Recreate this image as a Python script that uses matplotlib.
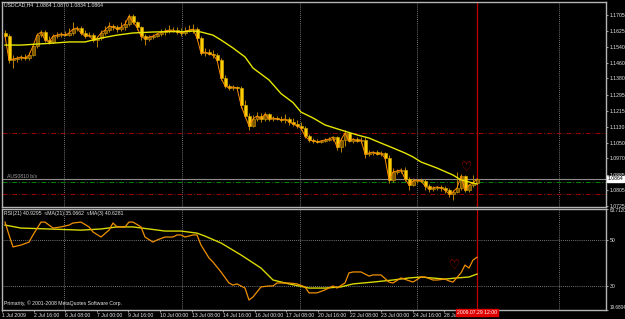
import matplotlib
matplotlib.use("Agg")
import matplotlib.pyplot as plt
import numpy as np

plt.rcParams["font.family"] = ["Liberation Sans", "DejaVu Sans"]

# ---------------- data ----------------
symbol_header = "USDCAD,H4  1.0864 1.0870 1.0834 1.0864"
rsi_header = "RSI(21) 40.9295  \u2248MA(21) 35.0662  \u2248MA(3) 40.6281"
copyright_text = "Primarity, \u00a9 2001-2008 MetaQuotes Software Corp."
line_label = "AUS0810 b/s"

first_open = 1.1613
closes = [1.1597, 1.1474, 1.1479, 1.1484, 1.1490, 1.1484, 1.1500, 1.1546, 1.1602, 1.1618,
          1.1577, 1.1567, 1.1597, 1.1602, 1.1608, 1.1602, 1.1613, 1.1633, 1.1638, 1.1613,
          1.1597, 1.1602, 1.1577, 1.1587, 1.1613, 1.1628, 1.1649, 1.1643, 1.1633, 1.1643,
          1.1659, 1.1700, 1.1669, 1.1643, 1.1597, 1.1582, 1.1592, 1.1597, 1.1608, 1.1618,
          1.1623, 1.1628, 1.1628, 1.1618, 1.1613, 1.1623, 1.1628, 1.1633, 1.1587, 1.1510,
          1.1515, 1.1505, 1.1500, 1.1474, 1.1382, 1.1341, 1.1331, 1.1336, 1.1331, 1.1243,
          1.1187, 1.1136, 1.1172, 1.1187, 1.1172, 1.1197, 1.1172, 1.1177, 1.1172, 1.1166,
          1.1172, 1.1156, 1.1146, 1.1136, 1.1125, 1.1084, 1.1064, 1.1059, 1.1054, 1.1059,
          1.1064, 1.1069, 1.1079, 1.1028, 1.1064, 1.1100, 1.1059, 1.1069, 1.1059, 1.1064,
          1.0992, 1.0997, 1.1002, 1.0992, 1.0997, 1.0971, 1.0859, 1.0900, 1.0905, 1.0910,
          1.0864, 1.0833, 1.0854, 1.0859, 1.0854, 1.0828, 1.0812, 1.0818, 1.0823, 1.0818,
          1.0807, 1.0787, 1.0797, 1.0818, 1.0879, 1.0807, 1.0833, 1.0843, 1.0864]
highs = [1.1628, 1.1608, 1.1500, 1.1495, 1.1500, 1.1505, 1.1515, 1.1556, 1.1613, 1.1628,
         1.1628, 1.1597, 1.1608, 1.1618, 1.1618, 1.1623, 1.1638, 1.1669, 1.1649, 1.1649,
         1.1628, 1.1618, 1.1613, 1.1597, 1.1628, 1.1649, 1.1669, 1.1659, 1.1654, 1.1669,
         1.1679, 1.1710, 1.1710, 1.1674, 1.1649, 1.1608, 1.1602, 1.1608, 1.1613, 1.1633,
         1.1638, 1.1654, 1.1643, 1.1643, 1.1638, 1.1643, 1.1654, 1.1659, 1.1643, 1.1597,
         1.1536, 1.1531, 1.1526, 1.1510, 1.1484, 1.1397, 1.1351, 1.1346, 1.1341, 1.1341,
         1.1269, 1.1202, 1.1192, 1.1207, 1.1202, 1.1207, 1.1202, 1.1187, 1.1187, 1.1187,
         1.1197, 1.1182, 1.1177, 1.1166, 1.1156, 1.1136, 1.1095, 1.1074, 1.1069, 1.1064,
         1.1074, 1.1079, 1.1084, 1.1084, 1.1074, 1.1115, 1.1105, 1.1074, 1.1079, 1.1079,
         1.1079, 1.1012, 1.1007, 1.1012, 1.1007, 1.1002, 1.0987, 1.0920, 1.0915, 1.0920,
         1.0925, 1.0874, 1.0869, 1.0864, 1.0869, 1.0864, 1.0838, 1.0828, 1.0828, 1.0833,
         1.0828, 1.0818, 1.0807, 1.0900, 1.0889, 1.0884, 1.0828, 1.0884, 1.0869]
lows = [1.1587, 1.1459, 1.1433, 1.1464, 1.1474, 1.1474, 1.1474, 1.1495, 1.1536, 1.1592,
        1.1567, 1.1556, 1.1561, 1.1587, 1.1592, 1.1597, 1.1597, 1.1602, 1.1623, 1.1602,
        1.1587, 1.1592, 1.1567, 1.1541, 1.1577, 1.1602, 1.1618, 1.1628, 1.1618, 1.1623,
        1.1628, 1.1649, 1.1659, 1.1628, 1.1577, 1.1551, 1.1572, 1.1582, 1.1592, 1.1597,
        1.1602, 1.1613, 1.1618, 1.1608, 1.1597, 1.1602, 1.1618, 1.1613, 1.1577, 1.1500,
        1.1495, 1.1500, 1.1484, 1.1464, 1.1372, 1.1331, 1.1320, 1.1320, 1.1325, 1.1228,
        1.1177, 1.1115, 1.1131, 1.1161, 1.1156, 1.1161, 1.1161, 1.1161, 1.1166, 1.1156,
        1.1151, 1.1141, 1.1136, 1.1125, 1.1115, 1.1074, 1.1054, 1.1048, 1.1048, 1.1048,
        1.1054, 1.1059, 1.1059, 1.1012, 1.1002, 1.1033, 1.1054, 1.1048, 1.1054, 1.1048,
        1.0971, 1.0982, 1.0987, 1.0987, 1.0982, 1.0961, 1.0843, 1.0848, 1.0889, 1.0895,
        1.0854, 1.0807, 1.0828, 1.0843, 1.0848, 1.0807, 1.0797, 1.0802, 1.0807, 1.0802,
        1.0792, 1.0771, 1.0756, 1.0792, 1.0807, 1.0797, 1.0797, 1.0823, 1.0838]

ma_idx = [0, 4, 12, 16, 20, 24, 28, 32, 37, 41, 45, 47, 49, 52, 54, 57, 60, 62, 66, 69,
          72, 74, 77, 80, 84, 88, 91, 94, 97, 100, 102, 104, 108, 112, 114, 117, 118]
ma_val = [1.1551, 1.1551, 1.1561, 1.1567, 1.1567, 1.1587, 1.1602, 1.1613, 1.1618, 1.1620,
          1.1620, 1.1623, 1.1618, 1.1602, 1.1577, 1.1536, 1.1490, 1.1433, 1.1372, 1.1302,
          1.1256, 1.1207, 1.1177, 1.1141, 1.1115, 1.1090, 1.1074, 1.1048, 1.1023, 1.0997,
          1.0977, 1.0951, 1.0920, 1.0884, 1.0859, 1.0843, 1.0838]

rsi_idx = [0, 1, 2, 4, 6, 7, 9, 10, 12, 14, 16, 17, 19, 21, 22, 24, 26, 27, 28, 30,
           31, 32, 34, 35, 37, 38, 40, 42, 43, 44, 45, 47, 48, 49, 51, 52, 54, 56, 57, 58,
           60, 61, 62, 64, 66, 67, 68, 71, 73, 75, 76, 78, 80, 82, 83, 85, 86, 87, 89, 91,
           92, 94, 96, 97, 99, 102, 104, 105, 107, 108, 110, 111, 112, 114, 115, 116, 117, 118]
rsi_val = [57.8, 52.2, 47.0, 47.8, 49.1, 52.2, 57.8, 57.8, 55.2, 55.7, 56.5, 57.4, 57.8, 55.7,
           53.5, 51.3, 54.3, 57.4, 55.7, 55.7, 57.8, 57.8, 55.7, 51.3, 49.1, 50.0, 51.3, 51.3,
           52.2, 52.2, 51.3, 52.2, 52.2, 47.8, 42.2, 40.4, 36.1, 31.3, 30.4, 30.9, 29.1, 23.9,
           25.2, 29.6, 30.0, 30.0, 31.3, 31.3, 30.9, 29.6, 27.0, 27.0, 28.3, 30.0, 29.1, 31.3,
           35.7, 36.1, 36.1, 34.3, 34.8, 34.8, 31.7, 31.3, 33.5, 31.7, 33.9, 33.9, 32.6, 32.6,
           33.0, 32.2, 31.7, 35.7, 39.1, 37.8, 41.3, 42.5]
rsima_idx = [0, 4, 11, 19, 24, 28, 32, 36, 40, 44, 48, 50, 54, 59, 64, 67, 71, 76, 80, 84,
             87, 92, 97, 101, 104, 110, 113, 116, 118]
rsima_val = [56.5, 55.2, 54.8, 54.3, 54.8, 55.7, 55.7, 54.8, 53.9, 53.9, 53.0, 51.7, 48.7,
             43.5, 37.8, 32.6, 30.9, 29.1, 29.1, 29.6, 30.9, 31.7, 32.6, 33.5, 33.9, 33.0,
             33.5, 33.9, 35.2]

time_labels = ["1 Jul 2009", "2 Jul 16:00", "6 Jul 08:00", "7 Jul 00:00", "9 Jul 16:00",
               "10 Jul 00:00", "13 Jul 08:00", "14 Jul 16:00", "16 Jul 00:00", "17 Jul 08:00",
               "20 Jul 16:00", "22 Jul 08:00", "23 Jul 00:00", "24 Jul 16:00", "28 Jul 08:00"]
cursor_label = "2009.07.29 12:00"
price_ticks = [1.1705, 1.1625, 1.1540, 1.1460, 1.1380, 1.1295, 1.1215, 1.1130, 1.1050,
               1.0970, 1.0885, 1.0805, 1.0725]
price_range = (1.0720, 1.1772)
rsi_range = (19.6804, 63.7120)
rsi_levels = [50, 30]
bid = 1.0864
red_levels = [1.1100, 1.0787]
green_level = 1.0848
marker_price = (115.5, 1.0925)
marker_rsi = (112.5, 39.1)

# ---------------- drawing ----------------
W, H = 625, 319
fig = plt.figure(figsize=(W / 100, H / 100), dpi=100, facecolor="black")

def fx(px):
    return px / W

def fy(py):
    return 1 - py / H

left, right = 2, 606
ax = fig.add_axes([fx(left), fy(207), fx(right - left), fy(2) - fy(207)], facecolor="black")
ax2 = fig.add_axes([fx(left), fy(309.7), fx(right - left), fy(208.5) - fy(309.7)], facecolor="black")

n = len(closes)
idx = np.arange(n)
opens = np.array([first_open] + closes[:-1])
c = np.array(closes)
hi = np.array(highs)
lo = np.array(lows)

xlim = (-0.75, 150.25)
spine_col = "#b4b4b4"
txt_col = "#e8e8e8"
fs = 3.7

# period separators / grid (vertical dotted)
sep = [14.75, 44.25, 73.75, 103.0, 138.5]
for a in (ax, ax2):
    for s in sep:
        a.axvline(s, color="#9a9a9a", lw=0.6, ls=(0, (1, 1.5)), zorder=1)
    a.axvline(118, color="#c00000", lw=0.9, zorder=2)

# horizontal lines in main window
for lv in red_levels:
    ax.axhline(lv, color="#a00000", lw=0.7, ls=(0, (5, 2, 1, 2)), zorder=1)
ax.axhline(green_level, color="#008800", lw=0.7, ls=(0, (5, 2, 1, 2)), zorder=1)
ax.axhline(bid, color="#8c8c8c", lw=0.8, zorder=1)

# candles
bull = c >= opens
wick_col = "#b88000"
ax.vlines(idx, lo, hi, color=wick_col, lw=0.7, zorder=3)
body_bot = np.minimum(opens, c)
body_h = np.maximum(np.abs(c - opens), 0.00015)
ax.bar(idx[~bull], body_h[~bull], bottom=body_bot[~bull], width=0.75,
       color="#ffcc00", edgecolor="#e0b000", lw=0.4, zorder=4)
ax.bar(idx[bull], body_h[bull], bottom=body_bot[bull], width=0.75,
       color="#7a5600", edgecolor="#c08800", lw=0.5, zorder=4)

# close line (orange) and long MA (yellow)
ax.plot(idx, c, color="#ff8c00", lw=0.7, zorder=5)
ax.plot(ma_idx, ma_val, color="#e6e600", lw=1.0, zorder=5)

# red marker
ax.text(marker_price[0], marker_price[1], "\u2661", color="#cc0000", fontsize=9,
        ha="center", va="center", zorder=6, family="DejaVu Sans")

ax.set_xlim(*xlim)
ax.set_ylim(*price_range)

# RSI window
for lv in rsi_levels:
    ax2.axhline(lv, color="#9a9a9a", lw=0.6, ls=(0, (1, 1.5)), zorder=1)
ax2.plot(rsima_idx, rsima_val, color="#d8d800", lw=1.0, zorder=4)
ax2.plot(rsi_idx, rsi_val, color="#f09000", lw=0.9, zorder=5)
ax2.text(marker_rsi[0], marker_rsi[1], "\u2661", color="#cc0000", fontsize=9,
         ha="center", va="center", zorder=6, family="DejaVu Sans")
ax2.set_xlim(*xlim)
ax2.set_ylim(*rsi_range)

for a in (ax, ax2):
    for s in a.spines.values():
        s.set_color(spine_col)
        s.set_linewidth(1.0)
    a.tick_params(colors=txt_col, labelsize=fs, length=1.5, width=0.5, pad=1)
    a.yaxis.tick_right()
    a.set_xticks([])

ax.set_yticks(price_ticks)
ax.set_yticklabels([f"{p:.4f}" for p in price_ticks], fontsize=fs, color=txt_col)
ax2.set_yticks([rsi_range[1]] + rsi_levels + [rsi_range[0]])
ylabs = ax2.set_yticklabels([f"{rsi_range[1]:.4f}", "50", "30", f"{rsi_range[0]:.4f}"],
                            fontsize=fs, color=txt_col)
ylabs[0].set_va("top")
ylabs[0].set_fontsize(3.3)
ylabs[-1].set_va("bottom")
ylabs[-1].set_fontsize(3.3)

# time axis
tick_pos = [(2 + 31.6 * k - 5) / 4 for k in range(len(time_labels))]
ax2.set_xticks(tick_pos)
ax2.set_xticklabels(time_labels, fontsize=fs, color=txt_col, ha="left")
ax2.tick_params(axis="x", length=1.5, pad=1)

# cursor time label
ax2.text(118, rsi_range[0], cursor_label, fontsize=fs, color="white", ha="center", va="top",
         bbox=dict(boxstyle="square,pad=0.2", fc="#e00000", ec="#e00000"),
         zorder=10, clip_on=False)

# current price box
ax.text(1.003, bid, f"{bid:.4f}", transform=ax.get_yaxis_transform(), fontsize=fs,
        color="black", ha="left", va="center",
        bbox=dict(boxstyle="square,pad=0.15", fc="white", ec="white"), clip_on=False, zorder=10)

# texts
fig.text(fx(4), fy(5), symbol_header, fontsize=fs, color=txt_col, va="center", ha="left")
fig.text(fx(4), fy(213), rsi_header, fontsize=fs, color=txt_col, va="center", ha="left")
fig.text(fx(4), fy(303), copyright_text, fontsize=fs, color=txt_col, va="center", ha="left")
ax.text(0.5, bid, line_label, fontsize=fs, color="#a0a0a0", ha="left", va="bottom", zorder=6)

fig.savefig("out.png", dpi=100, facecolor="black")
